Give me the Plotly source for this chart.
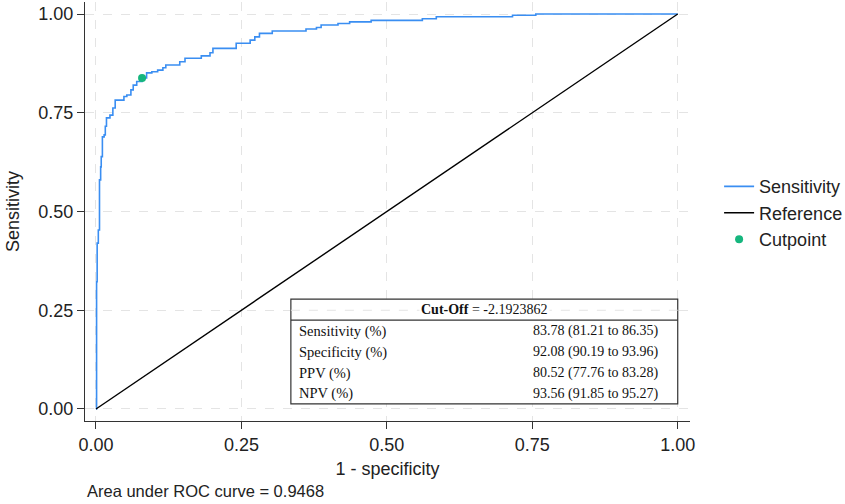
import plotly.graph_objects as go

# ROC curve (1 - specificity, sensitivity)
fpr = [0.0, 0.001, 0.002, 0.004, 0.006, 0.008, 0.009, 0.011, 0.014, 0.016, 0.018,
       0.024, 0.029, 0.033, 0.048, 0.053, 0.060, 0.064, 0.070, 0.0792, 0.087,
       0.096, 0.106, 0.115, 0.120, 0.144, 0.153, 0.181, 0.196, 0.201, 0.241,
       0.265, 0.273, 0.281, 0.303, 0.361, 0.379, 0.387, 0.416, 0.436, 0.473,
       0.561, 0.585, 0.716, 0.756, 1.0]
tpr = [0.0, 0.322, 0.420, 0.453, 0.580, 0.613, 0.639, 0.689, 0.694, 0.716, 0.737,
       0.744, 0.762, 0.782, 0.791, 0.795, 0.808, 0.820, 0.829, 0.8378, 0.851,
       0.854, 0.858, 0.864, 0.871, 0.879, 0.888, 0.894, 0.902, 0.913, 0.926,
       0.934, 0.942, 0.951, 0.957, 0.962, 0.966, 0.972, 0.976, 0.980, 0.984,
       0.988, 0.993, 0.997, 1.0, 1.0]

ref_x = [0, 1]
ref_y = [0, 1]

cut_x = [0.0792]
cut_y = [0.8378]

tick_vals = [0, 0.25, 0.5, 0.75, 1.0]
tick_text = ["0.00", "0.25", "0.50", "0.75", "1.00"]

table_title = "<b>Cut-Off</b> = -2.1923862"
table_labels = ["Sensitivity (%)", "Specificity (%)", "PPV (%)", "NPV (%)"]
table_values = ["83.78 (81.21 to 86.35)", "92.08 (90.19 to 93.96)",
                "80.52 (77.76 to 83.28)", "93.56 (91.85 to 95.27)"]
auc_text = "Area under ROC curve = 0.9468"

BLUE = "#3a8ef2"
GREEN = "#16b67e"

fig = go.Figure()
fig.add_trace(go.Scatter(x=fpr, y=tpr, mode="lines", line=dict(color=BLUE, width=1.6, shape="hv"),
                         name="Sensitivity"))
fig.add_trace(go.Scatter(x=ref_x, y=ref_y, mode="lines", line=dict(color="black", width=1.4),
                         name="Reference"))
fig.add_trace(go.Scatter(x=cut_x, y=cut_y, mode="markers", marker=dict(color=GREEN, size=8),
                         name="Cutpoint"))

font = "Liberation Sans, Arial, sans-serif"
serif = "Liberation Serif, Times New Roman, serif"

axis_common = dict(
    tickvals=tick_vals, ticktext=tick_text,
    showgrid=True, gridcolor="#e4e4e4", griddash="dash", gridwidth=1,
    showline=True, linecolor="#333333", linewidth=1,
    ticks="outside", ticklen=7, tickcolor="#333333",
    zeroline=False, automargin=False,
    tickfont=dict(size=18, color="#222222", family=font),
)

fig.update_layout(
    width=845, height=504,
    margin=dict(l=85, r=155, t=2, b=83, autoexpand=False),
    paper_bgcolor="white", plot_bgcolor="white",
    font=dict(family=font, color="#222222"),
    xaxis=dict(range=[-0.0189, 1.0211], title=dict(text="1 - specificity", font=dict(size=18), standoff=8),
               **axis_common),
    yaxis=dict(range=[-0.0304, 1.0304], title=dict(text="Sensitivity", font=dict(size=18), standoff=14),
               **axis_common),
    legend=dict(xref="container", yref="container", x=0.851, y=0.577,
                xanchor="left", yanchor="middle",
                font=dict(size=18, color="#222222", family=font),
                bgcolor="rgba(0,0,0,0)", tracegroupgap=0),
)

# table box
box_x0, box_x1, box_y0, box_y1, head_y = 0.335, 1.0, 0.013, 0.278, 0.225
fig.add_shape(type="rect", x0=box_x0, x1=box_x1, y0=box_y0, y1=box_y1, xref="x", yref="y",
              line=dict(color="#333333", width=1.2), fillcolor="white", layer="above")
fig.add_shape(type="line", x0=box_x0, x1=box_x1, y0=0.25, y1=0.25, xref="x", yref="y",
              line=dict(color="#e4e4e4", width=1, dash="dash"), layer="above")
fig.add_shape(type="line", x0=box_x0, x1=box_x1, y0=head_y, y1=head_y, xref="x", yref="y",
              line=dict(color="#333333", width=1.2), layer="above")
fig.add_annotation(x=(box_x0 + box_x1) / 2, y=0.251, xref="x", yref="y", text=table_title,
                   showarrow=False, font=dict(family=serif, size=14, color="#111111"),
                   bgcolor="white", xanchor="center", yanchor="middle")
row_y = [0.197, 0.144, 0.091, 0.038]
for lab, val, yy in zip(table_labels, table_values, row_y):
    fig.add_annotation(x=0.345, y=yy, xref="x", yref="y", text=lab, showarrow=False,
                       font=dict(family=serif, size=14.5, color="#111111"), xanchor="left", yanchor="middle")
    fig.add_annotation(x=0.748, y=yy, xref="x", yref="y", text=val, showarrow=False,
                       font=dict(family=serif, size=14, color="#111111"), xanchor="left", yanchor="middle")

fig.add_annotation(x=0, y=-0.167, xref="paper", yref="paper", text=auc_text, showarrow=False,
                   font=dict(family=font, size=16.5, color="#222222"), xanchor="left", yanchor="middle")

fig.write_html("out.html", config={"displayModeBar": False},
               post_script="document.body.style.margin='0';document.body.style.padding='0';")
